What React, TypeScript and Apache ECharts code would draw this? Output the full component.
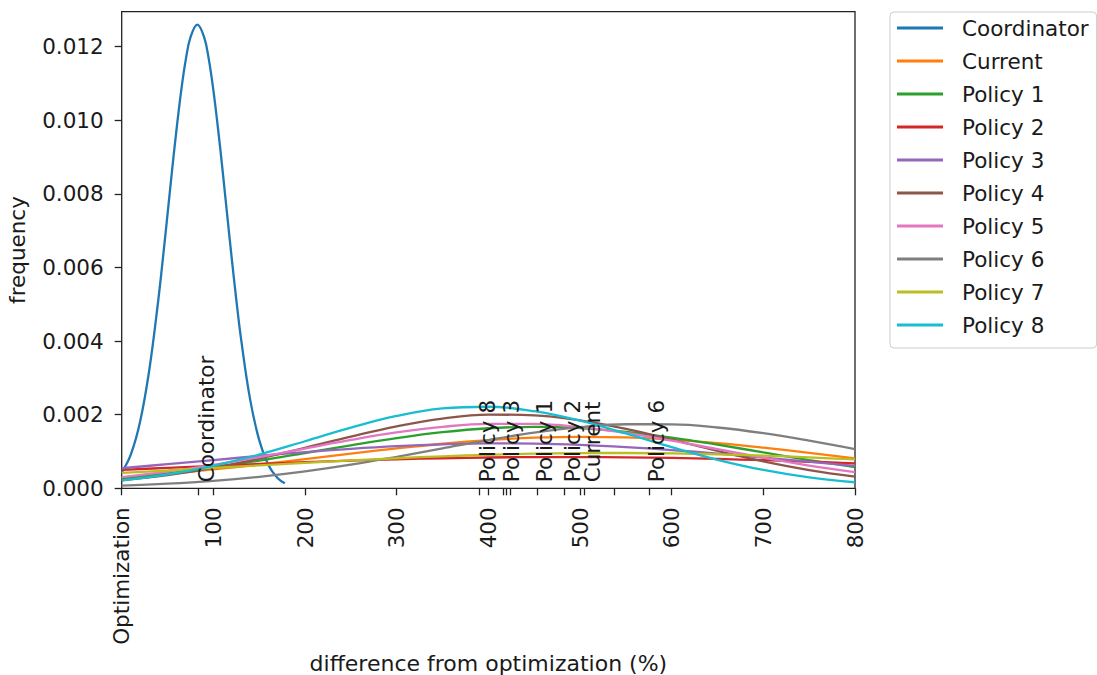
import React, { useEffect, useRef } from "react";
import * as echarts from "echarts";

const FONT = "DejaVu Sans";
const FS = 21.5;

const seriesNames = [
  "Coordinator", "Current", "Policy 1", "Policy 2", "Policy 3",
  "Policy 4", "Policy 5", "Policy 6", "Policy 7", "Policy 8",
];
const colors = [
  "#1f77b4", "#ff7f0e", "#2ca02c", "#d62728", "#9467bd",
  "#8c564b", "#e377c2", "#7f7f7f", "#bcbd22", "#17becf",
];

// mean positions (extra ticks) in the same order as seriesNames
const meanPositions = [83.5, 505, 453, 483, 416, 419, 424, 575, 537, 390];
// names annotated inside the plot
const annotatedNames = ["Coordinator", "Policy 8", "Policy 3", "Policy 1", "Policy 2", "Current", "Policy 6"];

const xTickValues = [0, 100, 200, 300, 400, 500, 600, 700, 800];
const yTickValues = [0, 0.002, 0.004, 0.006, 0.008, 0.01, 0.012];

// Coordinator curve samples
const coordX = [0, 10, 20, 30, 40, 45, 50, 55, 60, 65, 70, 75, 82.5, 90, 95, 100, 105, 110, 115, 120, 125,
  130, 140, 150, 160, 170, 178];
const coordY = [0.000426, 0.000922, 0.0018, 0.0032, 0.00513, 0.00626, 0.00745, 0.00865, 0.00979, 0.01082,
  0.01166, 0.01225, 0.0126, 0.01225, 0.01166, 0.01082, 0.00979, 0.00865, 0.00745, 0.00626, 0.00513,
  0.0041, 0.00243, 0.00131, 0.000634, 0.00028, 0.000135];

// other curves sampled at these x positions
const xGrid = [0, 50, 100, 150, 200, 250, 300, 350, 400, 450, 500, 550, 600, 650, 700, 750, 800];
const current = [0.000294, 0.000393, 0.000512, 0.000647, 0.000792, 0.000941, 0.001084, 0.00121, 0.001309,
  0.001375, 0.0014, 0.001382, 0.001323, 0.001228, 0.001105, 0.000965, 0.000816];
const policy1 = [0.000279, 0.000406, 0.000565, 0.000751, 0.000959, 0.001169, 0.001364, 0.001525, 0.001632,
  0.00167, 0.001637, 0.001535, 0.001379, 0.001186, 0.000975, 0.000767, 0.000578];
const policy2 = [0.000501, 0.000556, 0.00061, 0.000661, 0.00071, 0.000752, 0.000788, 0.000817, 0.000837,
  0.000848, 0.000849, 0.000841, 0.000824, 0.000797, 0.000763, 0.000722, 0.000676];
const policy3 = [0.000545, 0.000655, 0.000767, 0.000879, 0.000983, 0.001074, 0.001147, 0.001196, 0.001219,
  0.001213, 0.00118, 0.00112, 0.00104, 0.000942, 0.000834, 0.000723, 0.00061];
const policy4 = [0.000219, 0.00036, 0.000557, 0.000808, 0.0011, 0.001405, 0.001684, 0.001895, 0.002002,
  0.001984, 0.001845, 0.001612, 0.001321, 0.001015, 0.000732, 0.000496, 0.000316];
const policy5 = [0.000306, 0.000451, 0.000634, 0.000848, 0.001081, 0.001313, 0.001517, 0.00167, 0.001751,
  0.001748, 0.001661, 0.001503, 0.001295, 0.001063, 0.000831, 0.000618, 0.000438];
const policy6 = [0.0000744, 0.000126, 0.000203, 0.000313, 0.000459, 0.000641, 0.000856, 0.001085, 0.001312,
  0.001514, 0.001663, 0.001741, 0.001738, 0.001652, 0.001498, 0.001295, 0.001066];
const policy7 = [0.000417, 0.000484, 0.000553, 0.000623, 0.000691, 0.000757, 0.000817, 0.000869, 0.00091,
  0.00094, 0.000956, 0.000959, 0.000949, 0.000924, 0.000888, 0.00084, 0.000784];
const policy8 = [0.000216, 0.000377, 0.000612, 0.000918, 0.001279, 0.001648, 0.001965, 0.002169, 0.002216,
  0.002095, 0.001836, 0.00149, 0.001116, 0.000775, 0.000499, 0.000297, 0.000164];

const gridCurves = [current, policy1, policy2, policy3, policy4, policy5, policy6, policy7, policy8];

export default function App() {
  const ref = useRef<HTMLDivElement>(null);

  useEffect(() => {
    if (!ref.current) return;
    const chart = echarts.init(ref.current, null, { renderer: "svg" });

    const curveData: number[][][] = [
      coordX.map((x, i) => [x, coordY[i]]),
      ...gridCurves.map((ys) => xGrid.map((x, i) => [x, ys[i]])),
    ];

    const series = seriesNames.map((name, i) => ({
      name,
      type: "line",
      data: curveData[i],
      symbol: "none",
      smooth: 0.4,
      clip: true,
      lineStyle: { color: colors[i], width: 2.3 },
      itemStyle: { color: colors[i] },
      z: 2 + i,
    }));

    const option: any = {
      animation: false,
      backgroundColor: "#fff",
      textStyle: { fontFamily: FONT },
      grid: {
        left: 121.7,
        right: 1097 - 855,
        top: 11.7,
        bottom: 675 - 488.3,
        containLabel: false,
        outerBoundsMode: "none",
        show: true,
        borderColor: "#222",
        borderWidth: 1.3,
        backgroundColor: "transparent",
      },
      legend: {
        orient: "vertical",
        left: 890,
        top: 12,
        padding: [5, 8, 12, 7],
        itemWidth: 46,
        itemHeight: 3,
        itemGap: 11,
        icon: "rect",
        borderColor: "#ccc",
        borderWidth: 1,
        borderRadius: 4,
        backgroundColor: "#fff",
        textStyle: { fontSize: FS, fontFamily: FONT, color: "#1a1a1a", padding: [0, 0, 0, 14] },
        data: seriesNames,
      },
      xAxis: {
        type: "value",
        min: 0,
        max: 800,
        interval: 100,
        name: "difference from optimization (%)",
        nameLocation: "middle",
        nameGap: 161,
        nameTextStyle: { fontSize: 22, fontFamily: FONT, color: "#1a1a1a" },
        axisLine: { show: false },
        splitLine: { show: false },
        axisTick: {
          show: true,
          length: 7,
          lineStyle: { color: "#222", width: 1.3 },
          customValues: [...xTickValues, ...meanPositions],
        },
        axisLabel: {
          rotate: 90,
          margin: 19,
          fontSize: FS,
          fontFamily: FONT,
          color: "#1a1a1a",
          customValues: xTickValues,
          formatter: (v: number) => (v === 0 ? "Optimization" : String(v)),
        },
      },
      yAxis: {
        type: "value",
        min: 0,
        max: 0.01295,
        interval: 0.002,
        name: "frequency",
        nameLocation: "middle",
        nameGap: 93,
        nameTextStyle: { fontSize: FS, fontFamily: FONT, color: "#1a1a1a" },
        axisLine: { show: false },
        splitLine: { show: false },
        axisTick: {
          show: true,
          length: 7,
          lineStyle: { color: "#222", width: 1.3 },
          customValues: yTickValues,
        },
        axisLabel: {
          margin: 18,
          fontSize: FS,
          fontFamily: FONT,
          color: "#1a1a1a",
          customValues: yTickValues,
          formatter: (v: number) => v.toFixed(3),
        },
      },
      series,
    };

    chart.setOption(option);

    const y0 = chart.convertToPixel({ yAxisIndex: 0 }, 0) as number;
    const graphics = annotatedNames.map((name) => {
      const idx = seriesNames.indexOf(name);
      const px = chart.convertToPixel({ xAxisIndex: 0 }, meanPositions[idx]) as number;
      return {
        type: "text",
        x: px + 8,
        y: y0 - 6,
        rotation: Math.PI / 2,
        z: 100,
        style: {
          text: name,
          fontSize: FS,
          fontFamily: FONT,
          fill: "#1a1a1a",
          align: "left",
          verticalAlign: "middle",
        },
      };
    });
    chart.setOption({ graphic: graphics });

    return () => chart.dispose();
  }, []);

  return (
    <div
      ref={ref}
      style={{ position: "absolute", left: 0, top: 0, width: 1097, height: 675 }}
    />
  );
}
